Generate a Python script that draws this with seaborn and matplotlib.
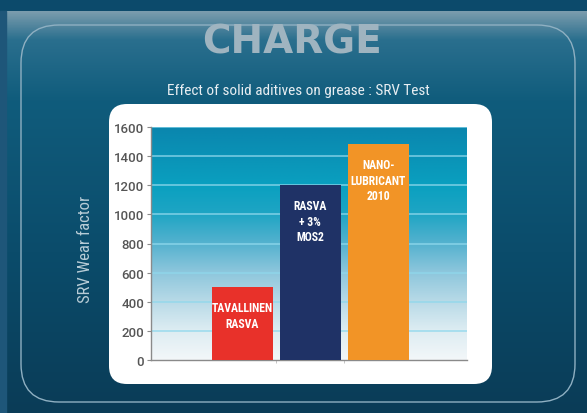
import numpy as np
import matplotlib.pyplot as plt
import seaborn as sns
from matplotlib.colors import LinearSegmentedColormap
from matplotlib.patches import FancyBboxPatch, Rectangle

# dados do grafico
categorias = ['TAVALLINEN\nRASVA', 'RASVA\n+ 3%\nMOS2', 'NANO-\nLUBRICANT\n2010']
desgaste = [500, 1200, 1480]
cores = ['#e8312a', '#1f3266', '#f29426']
yticks = [0, 200, 400, 600, 800, 1000, 1200, 1400, 1600]

narrow = ['Roboto Condensed', 'Liberation Sans Narrow', 'Roboto', 'DejaVu Sans']

sns.set_style('white')
fig = plt.figure(figsize=(5.87, 4.14), dpi=100)
fig.patch.set_facecolor('#0c4a6b')

# fundo do slide (coordenadas em pixels)
bg = fig.add_axes([0, 0, 1, 1])
painel = LinearSegmentedColormap.from_list(
    'painel', [(0, '#7a9cad'), (0.07, '#2a6f8e'), (0.22, '#105c7c'),
               (0.6, '#0b4c6b'), (1, '#0a3c57')])
grad = np.linspace(0, 1, 256).reshape(-1, 1)
bg.imshow(grad, cmap=painel, extent=(6, 587, 414, 12), aspect='auto')
bg.add_patch(Rectangle((0, 12), 6, 402, color='#1e5679'))
bg.add_patch(FancyBboxPatch((21, 26), 554, 377, boxstyle='round,pad=0,rounding_size=38',
                            fill=False, ec='#8fb0c2', lw=1.0))
bg.add_patch(FancyBboxPatch((109, 105), 383, 280, boxstyle='round,pad=0,rounding_size=18',
                            fc='white', ec='none'))
bg.text(292, 42, 'CHARGE', ha='center', va='center', fontsize=28,
        fontweight='bold', color='#9fb4c0')
bg.text(298, 91, 'Effect of solid aditives on grease : SRV Test', ha='center',
        va='center', fontsize=11, color='#e8eef2', family=narrow)
bg.text(86, 249, 'SRV Wear factor', ha='center', va='center', rotation=90,
        fontsize=12, color='#b9cdd7', family=narrow)
bg.set_xlim(0, 587)
bg.set_ylim(414, 0)
bg.axis('off')

# grafico
ax = fig.add_axes([151 / 587, (414 - 361) / 414, 316 / 587, 233 / 414])
sns.barplot(x=categorias, y=desgaste, hue=categorias, palette=cores, width=0.9,
            saturation=1, legend=False, ax=ax, zorder=3, linewidth=0)

xl = (-1.35, 3.31)
fundo = LinearSegmentedColormap.from_list(
    'fundo', [(0, '#f3f7f9'), (0.13, '#dcecf2'), (0.25, '#b8dae7'), (0.38, '#8cc6dc'),
              (0.5, '#55b2cf'), (0.63, '#1ea5c4'), (0.75, '#0aa0c0'), (1, '#0a86ae')])
ax.imshow(np.linspace(0, 1, 256).reshape(-1, 1), cmap=fundo, origin='lower',
          extent=(xl[0], xl[1], 0, 1600), aspect='auto', zorder=0)
for t in yticks[1:]:
    ax.axhline(t, color='#8fd8ec', lw=1.2, alpha=0.8, zorder=1)

for i, (v, lab) in enumerate(zip(desgaste, categorias)):
    ax.annotate(lab, (i, v), xytext=(0, -10), textcoords='offset points', ha='center',
                va='top', color='white', fontsize=8.5, fontweight='bold', family=narrow,
                linespacing=1.25, zorder=4)

ax.set_xlim(*xl)
ax.set_ylim(0, 1600)
ax.set_yticks(yticks)
ax.set_xticks([0.5, 1.5])
ax.set_xticklabels([])
ax.set_xlabel('')
ax.set_ylabel('')
ax.set_facecolor('none')
for s in ['top', 'right']:
    ax.spines[s].set_visible(False)
for s in ['left', 'bottom']:
    ax.spines[s].set_color('#8a8a8a')
    ax.spines[s].set_linewidth(1)
ax.tick_params(axis='y', length=3, width=0.8, color='#8a8a8a', labelcolor='#555555',
               labelsize=9.5, pad=2, left=True)
for lbl in ax.get_yticklabels():
    lbl.set_family(['Roboto', 'DejaVu Sans'])
    lbl.set_fontweight('medium')
ax.tick_params(axis='x', length=2, width=0.6, color='#bbbbbb', bottom=True)

fig.savefig('out.png', dpi=100, facecolor=fig.get_facecolor())
